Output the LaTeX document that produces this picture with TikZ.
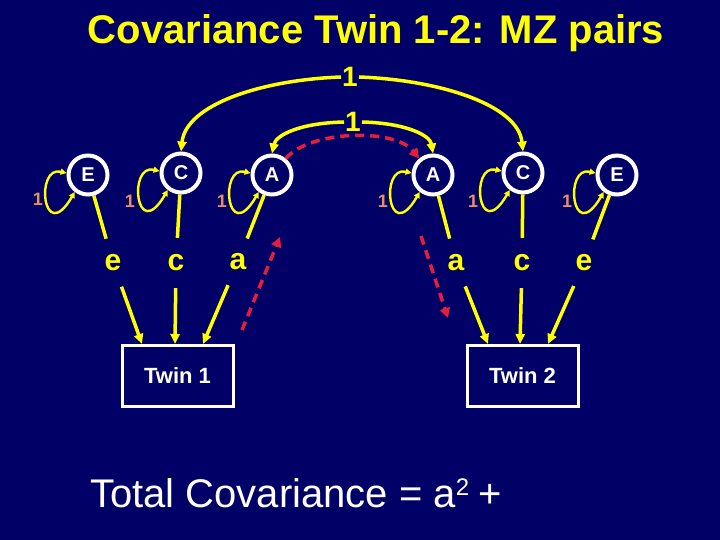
\documentclass[tikz,border=0pt]{standalone}
\usepackage{fontspec}
\setmainfont{Liberation Sans}
\usetikzlibrary{arrows.meta}
\definecolor{navybg}{RGB}{0,0,102}
\definecolor{ylw}{RGB}{255,255,0}
\definecolor{redd}{RGB}{230,30,60}
\definecolor{orng}{RGB}{232,144,96}
\begin{document}
\begin{tikzpicture}[x=1pt,y=1pt,
  latent/.style={circle, draw=white, line width=4pt, minimum size=39pt, inner sep=0pt, text=white, font=\fontsize{20}{20}\selectfont\bfseries},
  low/.style={circle, minimum size=50pt, inner sep=0pt, text=ylw, font=\fontsize{30}{30}\selectfont\bfseries},
  varlab/.style={text=orng, inner sep=0pt, font=\fontsize{18}{18}\selectfont\bfseries},
  toplab/.style={text=ylw, inner sep=1pt, font=\fontsize{28}{28}\selectfont\bfseries},
  obs/.style={draw=white, line width=3pt, minimum width=111pt, minimum height=61pt, inner sep=0pt, text=white, font=\fontsize{22}{22}\selectfont\bfseries},
  ypath/.style={draw=ylw, line width=3.5pt},
  yarrow/.style={ypath, -{Triangle[length=10pt,width=9pt]}},
  loopar/.style={draw=ylw, line width=2.4pt, {Triangle[length=6pt,width=6pt]}-{Triangle[length=6pt,width=6pt]}},
  rdash/.style={draw=redd, line width=3.5pt, dash pattern=on 9pt off 6pt, -{Triangle[length=10pt,width=10pt]}}
]
\useasboundingbox (0,0) rectangle (720,-540);
\fill[navybg] (0,0) rectangle (720,-540);

% title
\node[anchor=base, text=ylw, inner sep=0pt, font=\fontsize{40}{40}\selectfont\bfseries] (title) at (376,-44) {Covariance Twin 1-2: MZ pairs};

% latent variables
\node[latent] (E1) at (88,-175) {E};
\node[latent] (C1) at (181,-173) {C};
\node[latent] (A1) at (272,-175) {A};
\node[latent] (A2) at (433,-175) {A};
\node[latent] (C2) at (523,-173) {C};
\node[latent] (E2) at (617,-175) {E};

% variance loops
\foreach \n in {E1,C1,A1,A2,C2,E2}{
  \draw[loopar] (\n.175) .. controls +(-32,8) and +(-32,-55) .. (\n.232);
}
\node[varlab] (v1) at (38,-199) {1};
\node[varlab] (v2) at (130,-201) {1};
\node[varlab] (v3) at (222,-201) {1};
\node[varlab] (v4) at (383,-201) {1};
\node[varlab] (v5) at (473,-201) {1};
\node[varlab] (v6) at (567,-201) {1};

% path coefficient labels
\node[low] (e1) at (113,-263) {e};
\node[low] (c1) at (176,-263) {c};
\node[low] (a1) at (238,-262) {a};
\node[low] (a2) at (456,-263) {a};
\node[low] (c2) at (522,-263) {c};
\node[low] (e2) at (584,-263) {e};

% observed
\node[obs] (T1) at (177.5,-376) {Twin 1};
\node[obs] (T2) at (522.5,-376) {Twin 2};

% latent to labels
\draw[ypath] (E1) -- (e1);
\draw[ypath] (C1) -- (c1);
\draw[ypath] (A1) -- (a1);
\draw[ypath] (A2) -- (a2);
\draw[ypath] (C2) -- (c2);
\draw[ypath] (E2) -- (e2);

% labels to twins
\draw[yarrow] (e1) -- ([xshift=-35.5pt]T1.north);
\draw[yarrow] (c1) -- ([xshift=-2.5pt]T1.north);
\draw[yarrow] (a1) -- ([xshift=25.5pt]T1.north);
\draw[yarrow] (a2) -- ([xshift=-34.5pt]T2.north);
\draw[yarrow] (c2) -- ([xshift=-2.5pt]T2.north);
\draw[yarrow] (e2) -- ([xshift=25.5pt]T2.north);

% covariance arcs
\node[toplab] (one1) at (350,-77) {1};
\node[toplab] (one2) at (353,-122) {1};
\draw[yarrow] (one1.west) .. controls (260,-80) and (186,-105) .. (C1.north);
\draw[yarrow] (one1.east) .. controls (440,-80) and (518,-105) .. (C2.north);
\draw[yarrow] (one2.west) .. controls (300,-123) and (276,-135) .. (A1.north);
\draw[yarrow] (one2.east) .. controls (405,-123) and (430,-135) .. (A2.north);

% red dashed tracing path
\coordinate (r1s) at (242,-330);
\coordinate (r1e) at (280,-237);
\coordinate (r2s) at (421,-236);
\coordinate (r2e) at (448,-318);
\draw[rdash] (r1s) -- (r1e);
\draw[rdash] (A1.50) .. controls (310,-130) and (395,-128) .. (A2.130);
\draw[rdash] (r2s) -- (r2e);

% bottom text
\node[anchor=base west, text=white, inner sep=0pt, font=\fontsize{40}{40}\selectfont] (tot) at (90,-507) {Total Covariance = a\raisebox{12pt}{\fontsize{24}{24}\selectfont 2}\hspace{9pt}+};
\end{tikzpicture}
\end{document}
